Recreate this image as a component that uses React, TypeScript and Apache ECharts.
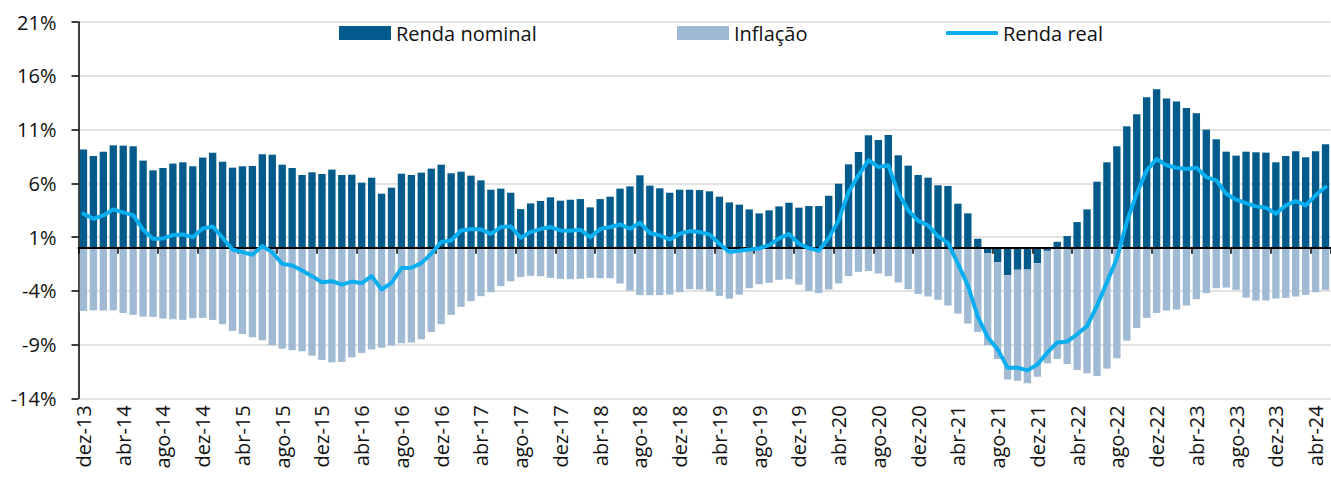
import React, { useEffect, useRef } from "react";
import * as echarts from "echarts";

const categories = [
  "dez-13",
  "jan-14", "fev-14", "mar-14", "abr-14", "mai-14", "jun-14", "jul-14", "ago-14", "set-14", "out-14", "nov-14", "dez-14",
  "jan-15", "fev-15", "mar-15", "abr-15", "mai-15", "jun-15", "jul-15", "ago-15", "set-15", "out-15", "nov-15", "dez-15",
  "jan-16", "fev-16", "mar-16", "abr-16", "mai-16", "jun-16", "jul-16", "ago-16", "set-16", "out-16", "nov-16", "dez-16",
  "jan-17", "fev-17", "mar-17", "abr-17", "mai-17", "jun-17", "jul-17", "ago-17", "set-17", "out-17", "nov-17", "dez-17",
  "jan-18", "fev-18", "mar-18", "abr-18", "mai-18", "jun-18", "jul-18", "ago-18", "set-18", "out-18", "nov-18", "dez-18",
  "jan-19", "fev-19", "mar-19", "abr-19", "mai-19", "jun-19", "jul-19", "ago-19", "set-19", "out-19", "nov-19", "dez-19",
  "jan-20", "fev-20", "mar-20", "abr-20", "mai-20", "jun-20", "jul-20", "ago-20", "set-20", "out-20", "nov-20", "dez-20",
  "jan-21", "fev-21", "mar-21", "abr-21", "mai-21", "jun-21", "jul-21", "ago-21", "set-21", "out-21", "nov-21", "dez-21",
  "jan-22", "fev-22", "mar-22", "abr-22", "mai-22", "jun-22", "jul-22", "ago-22", "set-22", "out-22", "nov-22", "dez-22",
  "jan-23", "fev-23", "mar-23", "abr-23", "mai-23", "jun-23", "jul-23", "ago-23", "set-23", "out-23", "nov-23", "dez-23",
  "jan-24", "fev-24", "mar-24", "abr-24", "mai-24",
];

const rendaNominal = [
  9.13,
  8.54, 8.94, 9.53, 9.50, 9.44, 8.11, 7.20, 7.42, 7.83, 7.95, 7.58, 8.39,
  8.85, 8.01, 7.45, 7.58, 7.61, 8.70, 8.66, 7.73, 7.42, 6.77, 7.02, 6.86,
  7.27, 6.77, 6.80, 6.06, 6.52, 5.03, 5.59, 6.89, 6.77, 6.99, 7.36, 7.73,
  6.93, 7.08, 6.71, 6.27, 5.40, 5.50, 5.12, 3.60, 4.13, 4.35, 4.69, 4.38,
  4.47, 4.53, 3.76, 4.53, 4.75, 5.50, 5.71, 6.74, 5.78, 5.53, 5.12, 5.40,
  5.40, 5.37, 5.25, 4.75, 4.22, 4.01, 3.57, 3.20, 3.48, 3.85, 4.19, 3.73,
  3.88, 3.88, 4.84, 5.96, 7.76, 8.91, 10.47, 10.03, 10.50, 8.60, 7.64, 6.77,
  6.52, 5.81, 5.75, 4.10, 3.20, 0.84, -0.50, -1.34, -2.55, -2.05, -2.02, -1.43,
  -0.28, 0.56, 1.09, 2.39, 3.57, 6.15, 7.95, 9.44, 11.30, 12.42, 14.01, 14.75,
  13.88, 13.60, 13.01, 12.52, 10.99, 10.09, 8.94, 8.57, 8.94, 8.88, 8.85, 7.95,
  8.54, 8.98, 8.42, 8.98, 9.63,
];

const inflacao = [
  -5.87,
  -5.81, -5.84, -5.81, -6.06, -6.24, -6.40, -6.43, -6.58, -6.65, -6.71, -6.55, -6.52,
  -6.71, -7.11, -7.73, -8.01, -8.32, -8.60, -9.07, -9.38, -9.53, -9.63, -10.03, -10.43,
  -10.65, -10.62, -10.19, -9.78, -9.47, -9.29, -9.10, -8.88, -8.82, -8.51, -7.83, -7.11,
  -6.24, -5.50, -4.97, -4.50, -4.13, -3.57, -3.11, -2.73, -2.61, -2.64, -2.80, -2.89,
  -2.92, -2.89, -2.80, -2.83, -2.83, -3.32, -3.98, -4.41, -4.41, -4.41, -4.35, -4.13,
  -3.85, -3.88, -4.07, -4.47, -4.72, -4.35, -3.76, -3.39, -3.26, -2.98, -2.92, -3.42,
  -4.01, -4.22, -3.88, -3.32, -2.64, -2.24, -2.17, -2.39, -2.64, -3.23, -3.85, -4.29,
  -4.53, -4.84, -5.37, -6.12, -7.05, -7.83, -8.57, -9.00, -9.69, -10.31, -10.59, -10.56,
  -10.47, -10.34, -10.81, -11.37, -11.68, -11.93, -11.24, -10.28, -8.63, -7.45, -6.52, -6.06,
  -5.84, -5.75, -5.37, -4.78, -4.22, -3.76, -3.70, -3.91, -4.63, -4.91, -4.91, -4.72,
  -4.66, -4.53, -4.38, -4.13, -3.91,
];

const rendaReal = [
  3.17,
  2.70, 3.01, 3.57, 3.29, 3.04, 1.68, 0.84, 0.87, 1.18, 1.24, 0.99, 1.80,
  1.99, 0.93, -0.16, -0.40, -0.65, 0.16, -0.43, -1.49, -1.65, -2.11, -2.64, -3.20,
  -3.11, -3.42, -3.14, -3.29, -2.64, -3.88, -3.26, -1.89, -1.86, -1.43, -0.56, 0.53,
  0.68, 1.61, 1.74, 1.71, 1.30, 1.93, 1.99, 0.93, 1.46, 1.74, 1.93, 1.61,
  1.58, 1.68, 0.99, 1.74, 1.93, 2.17, 1.77, 2.33, 1.37, 1.15, 0.78, 1.30,
  1.55, 1.46, 1.24, 0.37, -0.40, -0.28, -0.16, -0.06, 0.25, 0.87, 1.27, 0.37,
  -0.03, -0.28, 0.90, 2.55, 5.19, 6.74, 8.14, 7.52, 7.67, 5.09, 3.48, 2.50,
  2.08, 1.06, 0.45, -1.47, -3.50, -6.40, -8.32, -9.45, -11.15, -11.15, -11.40, -10.85,
  -9.75, -8.80, -8.72, -8.05, -7.28, -5.40, -3.20, -1.00, 2.40, 5.03, 7.20, 8.26,
  7.67, 7.45, 7.33, 7.45, 6.58, 6.27, 5.03, 4.47, 4.16, 3.85, 3.73, 3.17,
  3.94, 4.35, 3.94, 4.88, 5.65,
];

const Y_MIN = -14;
const Y_MAX = 21;
const Y_STEP = 5;

const FONT = "'Open Sans', 'Noto Sans', sans-serif";
const DARK = "#025B8B";
const LIGHT = "#A0BAD4";
const LINE = "#08AEF0";
const TEXT = "#111111";

export default function App() {
  const ref = useRef<HTMLDivElement | null>(null);

  useEffect(() => {
    if (!ref.current) return;
    const chart = echarts.init(ref.current, undefined, { renderer: "svg" });

    const legendBase = {
      top: 23,
      itemWidth: 52,
      itemHeight: 14,
      itemGap: 0,
      padding: 0,
      selectedMode: false,
      textStyle: { fontSize: 20, color: TEXT, fontFamily: FONT, padding: [0, 0, 0, 0] },
    };

    chart.setOption({
      animation: false,
      backgroundColor: "#ffffff",
      textStyle: { fontFamily: FONT },
      legend: [
        { ...legendBase, left: 339, data: [{ name: "Renda nominal", icon: "rect" }] },
        { ...legendBase, left: 677, data: [{ name: "Inflação", icon: "rect" }] },
        {
          ...legendBase,
          left: 946,
          itemHeight: 4,
          data: [{ name: "Renda real", icon: "roundRect" }],
        },
      ],
      grid: { left: 78.5, right: 0.5, top: 22, bottom: 80.7, containLabel: false },
      xAxis: [
        {
          type: "category",
          data: categories,
          position: "bottom",
          z: 4,
          axisLine: { show: true, onZero: true, onZeroAxisIndex: 0, lineStyle: { color: "#000", width: 2 } },
          axisTick: { show: true, interval: 3, length: 6, inside: false, alignWithLabel: false, lineStyle: { color: "#000", width: 1.5 } },
          axisLabel: { show: false },
          splitLine: { show: false },
        },
        {
          type: "category",
          data: categories,
          position: "bottom",
          axisLine: { show: false, onZero: false },
          axisTick: { show: false },
          splitLine: { show: false },
          axisLabel: {
            show: true,
            interval: 3,
            rotate: 90,
            margin: 7,
            fontSize: 20,
            color: TEXT,
            fontFamily: FONT,
          },
        },
      ],
      yAxis: [
        {
          type: "value",
          min: Y_MIN,
          max: Y_MAX,
          axisLine: { show: true, lineStyle: { color: "#000", width: 1.5 } },
          axisTick: { show: false },
          axisLabel: { show: false },
          splitLine: { show: false },
        },
        {
          type: "value",
          position: "left",
          min: 0,
          max: Y_MAX - Y_MIN,
          interval: Y_STEP,
          axisLine: { show: false },
          axisTick: { show: true, length: 7, inside: false, lineStyle: { color: "#000", width: 1.5 } },
          axisLabel: {
            show: true,
            margin: 22,
            fontSize: 20,
            color: TEXT,
            fontFamily: FONT,
            formatter: (v: number) => `${v + Y_MIN}%`,
          },
          splitLine: { show: true, lineStyle: { color: "#D9D9D9", width: 1.5 } },
        },
      ],
      series: [
        {
          name: "Renda nominal",
          type: "bar",
          stack: "total",
          xAxisIndex: 0,
          yAxisIndex: 0,
          data: rendaNominal,
          barCategoryGap: "26%",
          itemStyle: { color: DARK },
          z: 2,
        },
        {
          name: "Inflação",
          type: "bar",
          stack: "total",
          xAxisIndex: 0,
          yAxisIndex: 0,
          data: inflacao,
          barCategoryGap: "26%",
          itemStyle: { color: LIGHT },
          z: 2,
        },
        {
          name: "Renda real",
          type: "line",
          xAxisIndex: 0,
          yAxisIndex: 0,
          data: rendaReal,
          symbol: "none",
          showSymbol: false,
          smooth: false,
          lineStyle: { color: LINE, width: 4, cap: "round", join: "round" },
          itemStyle: { color: LINE },
          z: 6,
        },
      ],
    });

    return () => {
      chart.dispose();
    };
  }, []);

  return (
    <div
      ref={ref}
      style={{ position: "absolute", left: 0, top: 0, width: 1331, height: 479, background: "#fff" }}
    />
  );
}
